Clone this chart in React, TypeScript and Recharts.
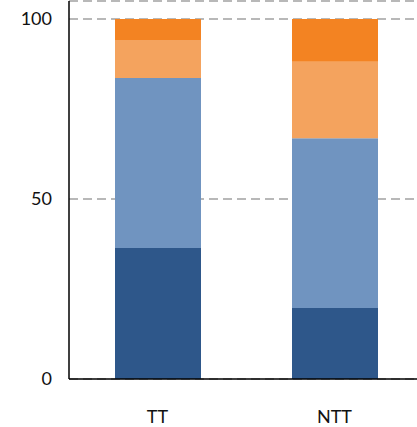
import { BarChart, Bar, XAxis, YAxis, CartesianGrid } from 'recharts'

const groups = ['TT', 'NTT']
const darkBlue = [36.4, 19.7]
const lightBlue = [47.2, 47.2]
const lightOrange = [10.6, 21.2]
const orange = [5.8, 11.9]
const yTicks = [0, 50, 100]

const data = groups.map((g, i) => ({
  group: g,
  a: darkBlue[i],
  b: lightBlue[i],
  c: lightOrange[i],
  d: orange[i],
}))

const tickStyle = { fill: '#111', fontSize: 18, fontFamily: 'Lato' }

export default function App() {
  return (
    <div style={{ position: 'absolute', left: 0, top: 0, background: '#fff', overflow: 'hidden', width: 417, height: 427 }}>
      <BarChart
        width={423}
        height={427}
        data={data}
        margin={{ top: 1, right: 0, bottom: 0, left: 0 }}
        barSize={86}
      >
        <CartesianGrid
          vertical={false}
          stroke="#b8b8b8"
          strokeWidth={2}
          strokeDasharray="9 5"
        />
        <XAxis
          dataKey="group"
          axisLine={{ stroke: '#000', strokeWidth: 1.5 }}
          tickLine={false}
          tickSize={0}
          tickMargin={31}
          height={48}
          tick={tickStyle}
        />
        <YAxis
          domain={[0, 105]}
          ticks={yTicks}
          width={69}
          axisLine={{ stroke: '#000', strokeWidth: 1.5 }}
          tickLine={false}
          tickSize={0}
          tickMargin={17}
          tick={tickStyle}
        />
        <Bar dataKey="a" stackId="s" fill="#2e578a" isAnimationActive={false} />
        <Bar dataKey="b" stackId="s" fill="#7094c0" isAnimationActive={false} />
        <Bar dataKey="c" stackId="s" fill="#f4a35e" isAnimationActive={false} />
        <Bar dataKey="d" stackId="s" fill="#f38322" isAnimationActive={false} />
      </BarChart>
    </div>
  )
}
